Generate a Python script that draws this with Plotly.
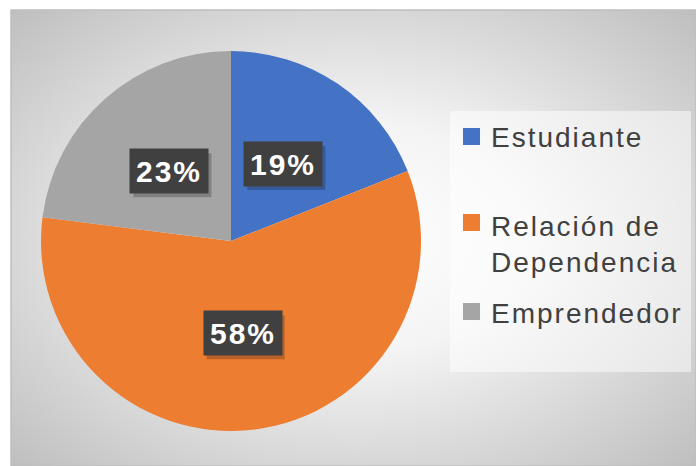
import base64
import math
import plotly.graph_objects as go

# Survey breakdown by occupation
labels = ["Estudiante", "Relación de Dependencia", "Emprendedor"]
legend_text = ["Estudiante", "Relación de<br>Dependencia", "Emprendedor"]
values = [19, 58, 23]
colors = ["#4472C4", "#ED7D31", "#A5A5A5"]

W, H = 696, 466
FONT = "Liberation Sans, Arial, sans-serif"


def px(x, y):
    """Pixel position -> paper coordinates (margins are zero)."""
    return x / W, 1 - y / H


# Pie geometry in pixels
cx, cy, R = 231, 241, 190

fig = go.Figure()
fig.add_trace(go.Pie(
    labels=labels,
    values=values,
    marker=dict(colors=colors, line=dict(width=0)),
    sort=False,
    direction="clockwise",
    rotation=0,
    textinfo="none",
    hoverinfo="label+percent",
    showlegend=False,
    domain=dict(x=[(cx - R) / W, (cx + R) / W],
                y=[1 - (cy + R) / H, 1 - (cy - R) / H]),
))

# Radial grey gradient for the chart panel
svg = (
    '<svg xmlns="http://www.w3.org/2000/svg" width="685" height="456">'
    '<defs><radialGradient id="g" cx="50%" cy="50%" r="72%">'
    '<stop offset="0%" stop-color="#ffffff"/>'
    '<stop offset="35%" stop-color="#f4f4f4"/>'
    '<stop offset="100%" stop-color="#bdbdbd"/>'
    '</radialGradient></defs>'
    '<rect width="685" height="456" fill="url(#g)"/></svg>'
)
src = "data:image/svg+xml;base64," + base64.b64encode(svg.encode()).decode()
x0, y0 = px(11, 10)
fig.add_layout_image(dict(
    source=src, xref="paper", yref="paper",
    x=x0, y=y0, sizex=1 - x0, sizey=y0,
    sizing="stretch", layer="below", xanchor="left", yanchor="top",
))

shapes = [
    dict(type="rect", xref="paper", yref="paper",
         x0=x0, y0=0, x1=1, y1=y0,
         line=dict(color="#bfbfbf", width=1.5), fillcolor="rgba(0,0,0,0)"),
]

annotations = []

# Percentage labels on dark boxes, placed at each slice's mid-angle
BOX_W, BOX_H = 78, 44
total = sum(values)
cum = 0
for v in values:
    mid = (cum + v / 2) / total * 2 * math.pi
    cum += v
    lx = cx + 0.49 * R * math.sin(mid)
    ly = cy - 0.49 * R * math.cos(mid)
    # soft drop shadow under the label box
    sx0, sy0 = px(lx - BOX_W / 2 + 3, ly - BOX_H / 2 + 4)
    sx1, sy1 = px(lx + BOX_W / 2 + 3, ly + BOX_H / 2 + 4)
    shapes.append(dict(type="rect", xref="paper", yref="paper",
                       x0=sx0, y0=sy1, x1=sx1, y1=sy0,
                       line=dict(width=0), fillcolor="rgba(0,0,0,0.22)"))
    ax, ay = px(lx, ly)
    pct = f"{round(v / total * 100)}%"
    annotations.append(dict(
        text=f"<b>{pct}</b>", xref="paper", yref="paper", x=ax, y=ay,
        xanchor="center", yanchor="middle", showarrow=False,
        width=BOX_W - 6, height=BOX_H - 6, borderpad=3,
        align="center", valign="middle",
        font=dict(family=FONT, size=30, color="#ffffff"),
        bgcolor="#404040"))

# Legend panel
lx0, ly0 = px(450, 111)
lx1, ly1 = px(691, 372)
shapes.append(dict(type="rect", xref="paper", yref="paper",
                   x0=lx0, y0=ly1, x1=lx1, y1=ly0,
                   line=dict(width=0), fillcolor="rgba(255,255,255,0.5)"))

square_tops = [128, 214, 303]
text_mid = [137, 245, 313]
for i, lab in enumerate(legend_text):
    sx0, sy0 = px(463, square_tops[i])
    sx1, sy1 = px(480, square_tops[i] + 17)
    shapes.append(dict(type="rect", xref="paper", yref="paper",
                       x0=sx0, y0=sy1, x1=sx1, y1=sy0,
                       line=dict(width=0), fillcolor=colors[i]))
    tx, ty = px(489, text_mid[i])
    annotations.append(dict(
        text=lab, xref="paper", yref="paper", x=tx, y=ty,
        xanchor="left", yanchor="middle", showarrow=False, align="left",
        font=dict(family=FONT, size=28, color="#404040")))

fig.update_layout(
    width=W, height=H,
    margin=dict(l=0, r=0, t=0, b=0),
    paper_bgcolor="#ffffff",
    plot_bgcolor="#ffffff",
    shapes=shapes,
    annotations=annotations,
)

# Slightly open letter spacing on the annotation texts
spacing_js = """
var gd = document.getElementById('{plot_id}');
gd.querySelectorAll('.annotation-text').forEach(function (t) {
  var bold = t.querySelector('b');
  t.style.letterSpacing = bold ? '1px' : '2px';
});
"""

fig.write_html("out.html", post_script=spacing_js)
